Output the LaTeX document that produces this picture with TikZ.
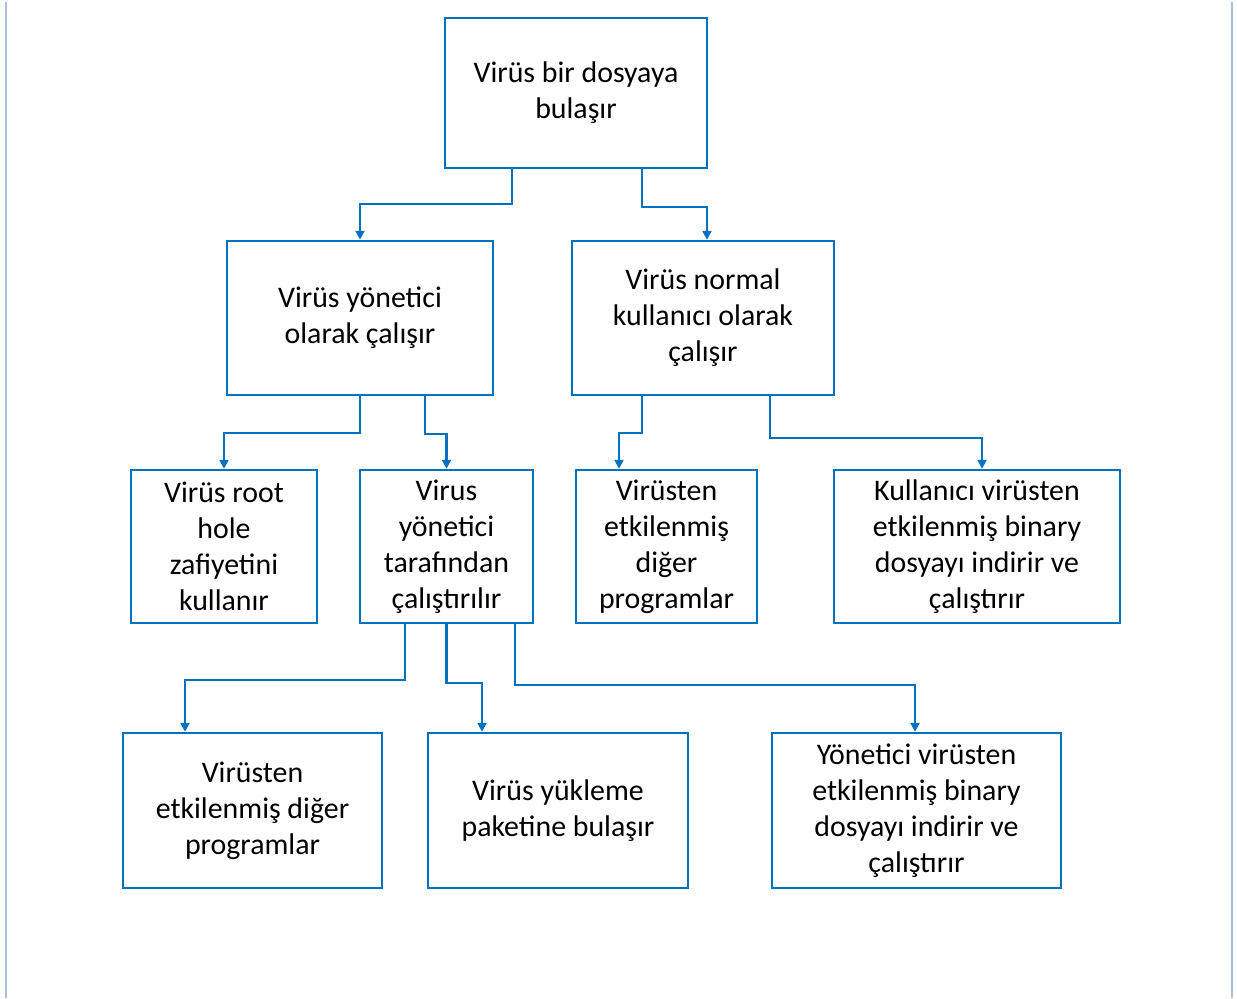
\documentclass[tikz,border=0pt]{standalone}
\usepackage{fontspec}
\setmainfont{Carlito}
\usetikzlibrary{arrows.meta,calc}
\definecolor{boxblue}{HTML}{0070C0}
\definecolor{edgegrey}{HTML}{A9C0D8}

\begin{document}
\begin{tikzpicture}[
    x=0.02cm, y=-0.02cm,
    box/.style={rectangle, draw=boxblue, line width=1.4pt, align=center, inner sep=0pt,
                font=\fontsize{17}{20.5}\selectfont},
    link/.style={draw=boxblue, line width=1.4pt, -{Triangle[length=5pt,width=5pt]}}
]
\useasboundingbox (0,0) rectangle (1237,998);
\draw[edgegrey, line width=0.8pt] (6,2) -- (6,998);
\draw[edgegrey, line width=0.8pt] (1232,2) -- (1232,998);

% kutular
\node[box, minimum width=262*0.02cm, minimum height=150*0.02cm] (infect) at (576,93) {Virüs bir dosyaya\\bulaşır};
\node[box, minimum width=266*0.02cm, minimum height=154*0.02cm] (admin) at (360,318) {Virüs yönetici\\olarak çalışır};
\node[box, minimum width=262*0.02cm, minimum height=154*0.02cm] (normal) at (703,318) {Virüs normal\\kullanıcı olarak\\çalışır};

\node[box, minimum width=186*0.02cm, minimum height=153*0.02cm] (roothole) at (224,546.5) {Virüs root\\hole\\zafiyetini\\kullanır};
\node[box, minimum width=173*0.02cm, minimum height=153*0.02cm] (runadmin) at (446.5,546.5) {Virus\\yönetici\\tarafından\\çalıştırılır};
\node[box, minimum width=181*0.02cm, minimum height=153*0.02cm] (otheruser) at (666.5,546.5) {Virüsten\\etkilenmiş\\diğer\\programlar};
\node[box, minimum width=286*0.02cm, minimum height=153*0.02cm] (userbin) at (977,546.5) {Kullanıcı virüsten\\etkilenmiş binary\\dosyayı indirir ve\\çalıştırır};

\node[box, minimum width=259*0.02cm, minimum height=155*0.02cm] (otheradmin) at (252.5,810.5) {Virüsten\\etkilenmiş diğer\\programlar};
\node[box, minimum width=260*0.02cm, minimum height=155*0.02cm] (package) at (558,810.5) {Virüs yükleme\\paketine bulaşır};
\node[box, minimum width=289*0.02cm, minimum height=155*0.02cm] (adminbin) at (916.5,810.5) {Yönetici virüsten\\etkilenmiş binary\\dosyayı indirir ve\\çalıştırır};

% oklar
\draw[link] ($(infect.south)+(-64,0)$) -- ++(0,35) -| (admin.north);
\draw[link] ($(infect.south)+(66,0)$) -- ++(0,38) -| ($(normal.north)+(4,0)$);

\draw[link] (admin.south) -- ++(0,37) -| (roothole.north);
\draw[link] ($(admin.south)+(65,0)$) -- ++(0,38) -| (runadmin.north);

\draw[link] ($(normal.south)+(-61,0)$) -- ++(0,37) -| ($(otheruser.north)+(-47.5,0)$);
\draw[link] ($(normal.south)+(67,0)$) -- ++(0,42) -| ($(userbin.north)+(5,0)$);

\draw[link] ($(runadmin.south)+(-41.5,0)$) -- ++(0,56) -| ($(otheradmin.north)+(-67.5,0)$);
\draw[link] (runadmin.south) -- ++(0,59) -| ($(package.north)+(-76,0)$);
\draw[link] ($(runadmin.south)+(68.5,0)$) -- ++(0,61) -| ($(adminbin.north)+(-1.5,0)$);

\end{tikzpicture}
\end{document}
